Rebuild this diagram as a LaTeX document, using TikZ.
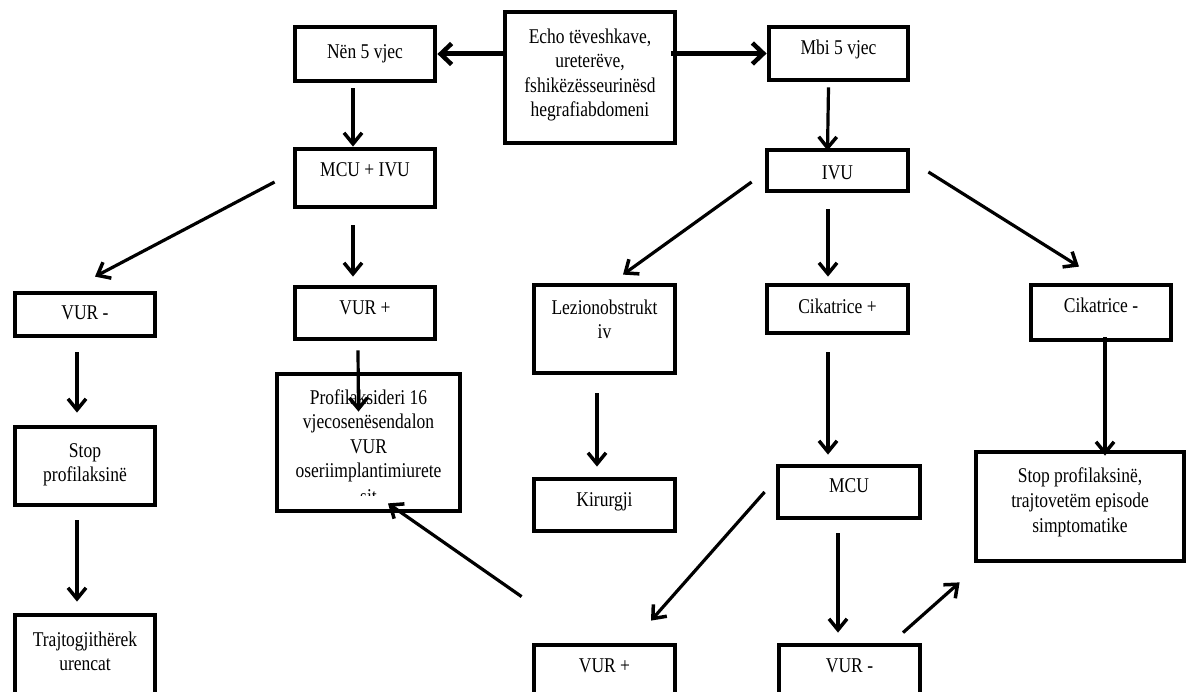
\documentclass[tikz,border=0pt]{standalone}
\usepackage{fontspec}
\setmainfont{Liberation Serif}
\usepackage{graphicx}
\usetikzlibrary{arrows.meta,calc}
\newcommand\T[2][0pt]{\raisebox{#1}[\height][\depth]{\scalebox{1}[1.2]{\begin{tabular}{@{}c@{}}#2\end{tabular}}}}
\begin{document}
\begin{tikzpicture}[x=1pt,y=-1pt,
  bx/.style={draw, line width=4.8pt, inner sep=0pt, fill=white, font=\fontsize{17.5}{20.5}\selectfont},
  txt/.style={inner sep=0pt, font=\fontsize{17.5}{20.5}\selectfont},
  arr/.style={line width=3.2pt, -{Straight Barb[length=11pt,width=18pt,line width=3.5pt]}},
  arrb/.style={line width=5pt, -{Straight Barb[length=11pt,width=21pt,line width=4.5pt]}}]
\clip (0,0) rectangle (1189,692);
\fill[white] (0,0) rectangle (1189,692);

\node[bx, minimum width=170, minimum height=131] (echo) at (590,77.5) {\T[2.5pt]{Echo tëveshkave,\\ ureterëve,\\ fshikëzësseurinësd\\ hegrafiabdomeni}};
\node[bx, minimum width=140, minimum height=54] (nen) at (365,54) {\T{Nën 5 vjec}};
\node[bx, minimum width=139, minimum height=53] (mbi) at (838.5,53.5) {\T[3.5pt]{Mbi 5 vjec}};
\node[bx, minimum width=140, minimum height=58] (mcuivu) at (365,178) {\T[6pt]{MCU + IVU}};
\node[bx, minimum width=141, minimum height=41] (ivu) at (837.5,170.5) {\T[-4.5pt]{IVU}};
\node[bx, minimum width=140, minimum height=43] (vurm) at (85,314.5) {\T{VUR -}};
\node[bx, minimum width=140, minimum height=52] (vurp) at (365,313) {\T[3pt]{VUR +}};
\node[bx, minimum width=141, minimum height=88] (lez) at (604.5,329) {\T[7.5pt]{Lezionobstrukt\\ iv}};
\node[bx, minimum width=141, minimum height=48] (cikp) at (837.5,309) {\T{Cikatrice +}};
\node[bx, minimum width=140, minimum height=55] (cikm) at (1101,312.5) {\T[4.5pt]{Cikatrice -}};
\node[bx, minimum width=140, minimum height=78] (stop1) at (85,466) {\T[1.5pt]{Stop\\ profilaksinë}};
\node[bx, minimum width=183, minimum height=137] (profil) at (368.5,442.5) {\T[6.5pt]{Profilaksideri 16\\ vjecosenësendalon\\ VUR\\ oseriimplantimiurete}};
\begin{scope}
\clip (280,380) rectangle (458,495);
\node[txt, anchor=base] (sit) at (368.5,503) {\scalebox{1}[1.2]{sit}};
\end{scope}
\node[bx, minimum width=141, minimum height=52] (kir) at (604.5,505) {\T[3pt]{Kirurgji}};
\node[bx, minimum width=142, minimum height=52] (mcu) at (849,492) {\T[4pt]{MCU}};
\node[bx, minimum width=208, minimum height=109] (stop2) at (1080,506.5) {\T[4pt]{Stop profilaksinë,\\ trajtovetëm episode\\ simptomatike}};
\node[bx, minimum width=140, minimum height=88] (trajt) at (85,659) {\T[5.5pt]{Trajtogjithërek\\ urencat}};
\node[bx, minimum width=141, minimum height=58] (vurp2) at (604.5,674) {\T[6pt]{VUR +}};
\node[bx, minimum width=141, minimum height=58] (vurm2) at (849.5,674) {\T[6pt]{VUR -}};

\draw[arrb] (echo.west |- nen.east) -- (nen.east);
\draw[arrb] ($(echo.east |- mbi.west)+(-6,0)$) -- (mbi.west);
\draw[arr] ($(nen.south)+(-12,5)$) -- ($(mcuivu.north)+(-12,0)$);
\draw[arr] ($(mcuivu.west)+(-18,4)$) -- ($(vurm.north)+(10,-14)$);
\draw[arr] ($(mcuivu.south)+(-12,16)$) -- ($(vurp.north)+(-12,-8)$);
\draw[arr] ($(vurp.south)+(-7,9)$) -- ($(profil.north)+(-10,40)$);
\draw[arr] ($(vurm.south)+(-8,14)$) -- ($(stop1.north)+(-8,-12)$);
\draw[arr] ($(stop1.south)+(-8,13)$) -- ($(trajt.north)+(-8,-11)$);
\draw[arr] ($(mbi.south)+(-10,5)$) -- ($(ivu.north)+(-10,3)$);
\draw[arr] ($(ivu.west)+(-13,11.5)$) -- ($(lez.north)+(18.5,-8)$);
\draw[arr] ($(ivu.south)+(-9.5,16)$) -- ($(cikp.north)+(-9.5,-6)$);
\draw[arr] ($(ivu.east)+(18,1.5)$) -- ($(cikm.north)+(-22,-16)$);
\draw[arr] ($(lez.south)+(-7.5,18)$) -- ($(kir.north)+(-7.5,-10)$);
\draw[arr] ($(cikp.south)+(-9.5,17)$) -- ($(mcu.north)+(-21,-9)$);
\draw[arr] ($(cikm.south)+(4,-5)$) -- ($(stop2.north)+(25,6)$);
\draw[arr] ($(mcu.west)+(-11,0)$) -- ($(vurp2.north)+(46.5,-22)$);
\draw[arr] ($(mcu.south)+(-11,13)$) -- ($(vurm2.north)+(-11.5,-10)$);
\draw[arr] ($(vurm2.north)+(53.5,-10)$) -- ($(stop2.south west)+(-14,19)$);
\draw[arr] ($(vurp2.north west)+(-10,-46)$) -- ($(profil.south)+(19.5,-10)$);
\end{tikzpicture}
\end{document}
